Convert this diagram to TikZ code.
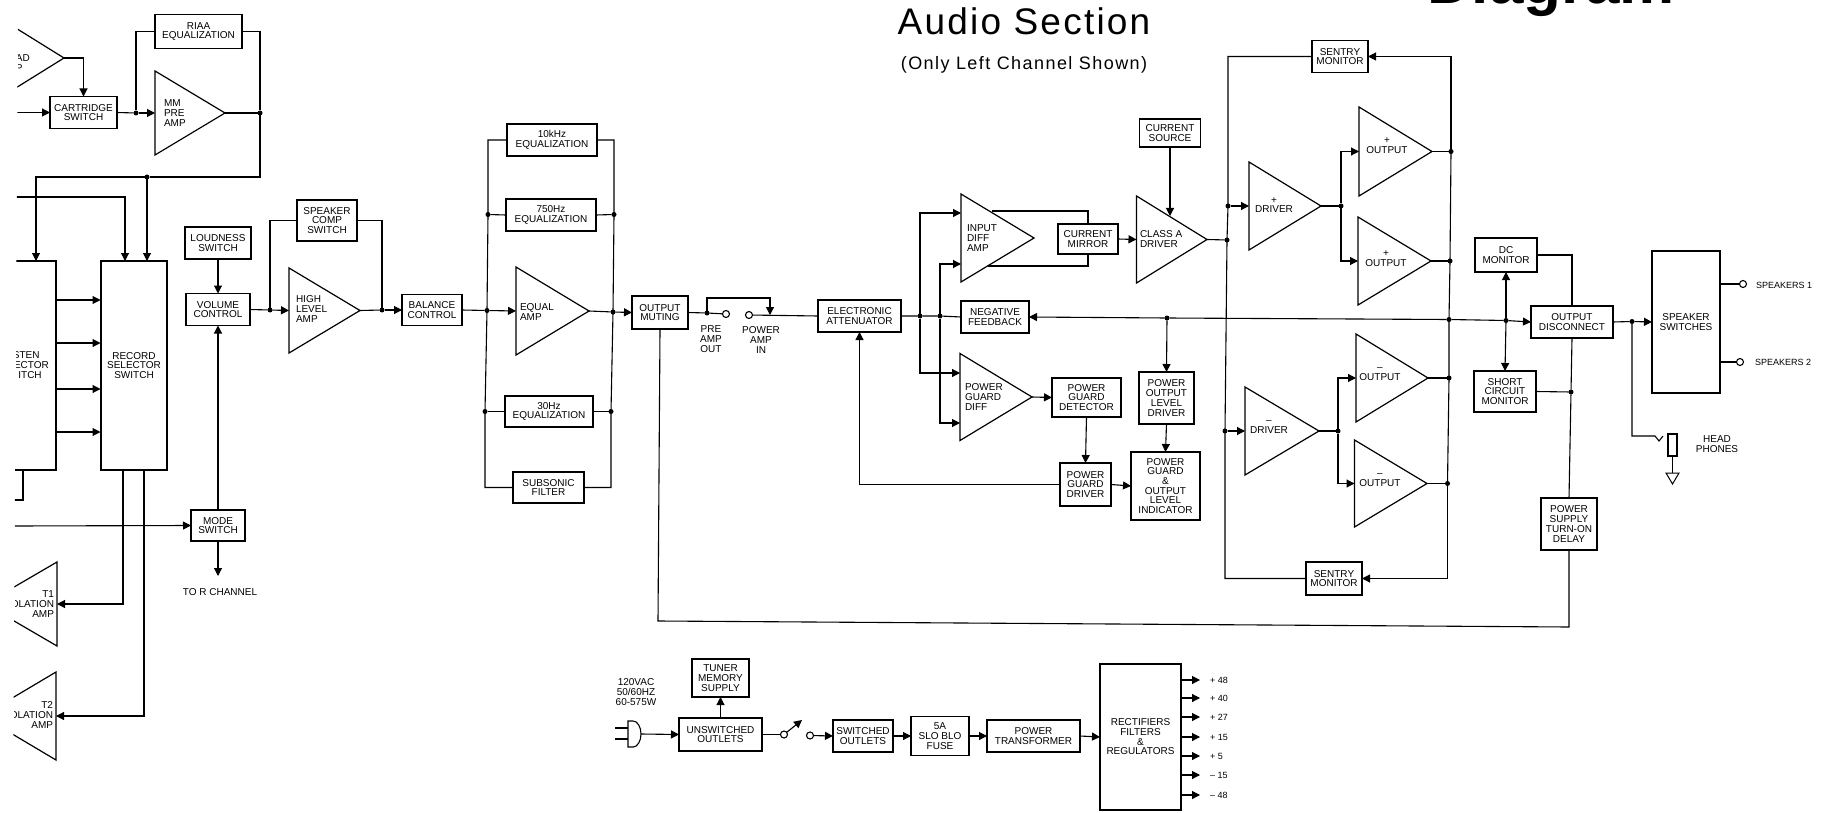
\documentclass[tikz,border=0pt]{standalone}
\usepackage{fontspec}
\setmainfont{Liberation Sans}
\newfontfamily\headA[LetterSpace=6]{Liberation Sans}
\newfontfamily\headB[LetterSpace=8]{Liberation Sans}
\usepackage{tikz}
\usetikzlibrary{arrows.meta,calc,shapes.geometric}

\begin{document}
\begin{tikzpicture}
	[
	 x = 1pt,
	 y = -1pt,
	 line width = 1.1pt,
	 >={Triangle[length=8pt,width=8pt]},
	 every node/.style = {align=center,
		                  font=\fontsize{10}{9.7}\selectfont,
		                  inner sep = 0pt,
		                  outer sep = 0pt
	                     },
	 wh/.style 2 args = {minimum width=#1pt, minimum height=#2pt},
	 blk/.style = {shape=rectangle, draw, line width=1.3pt},
	 amp/.style 2 args = {isosceles triangle,
		                  isosceles triangle stretches,
		                  draw,
		                  line width=1.2pt,
		                  anchor=lower side,
		                  minimum height=#1pt,
		                  minimum width=#2pt},
	 jn/.style = {circle, fill, minimum size=5pt},
	 jack/.style = {circle, draw, minimum size=7pt},
	 lft/.style = {anchor=west, align=left},
	 sm/.style = {font=\fontsize{9}{9.7}\selectfont}
	]

	\useasboundingbox (0,0) rectangle (1828,813);
	\clip (18,0) -- (1828,0) -- (1828,813) -- (13,813) -- cycle;

	\node [anchor=base west, font=\fontsize{62}{62}\selectfont\bfseries] (TTa) at (1427,4) {Diagram};
	\node [font=\fontsize{37}{37}\selectfont\headA] (TTb) at (1024,21) {Audio Section};
	\node [font=\fontsize{18}{18}\selectfont\headB] (TTc) at (1024,65) {(Only Left Channel Shown)};

	\node [amp={74}{92}] (LD) at (-10,58) {};
	\node [lft] (LDt) at (16,63) {AD\\P};
	\node [blk, wh={67}{32}] (CSW) at (83.5,112.5) {CARTRIDGE\\SWITCH};
	\node [blk, wh={87}{34}] (RI) at (198.5,31.5) {RIAA\\EQUALIZATION};
	\node [amp={70}{84}] (MM) at (155,113) {};
	\node [lft] (MMt) at (164,113) {MM\\PRE\\AMP};
	\node [jn] (J1) at (136,113) {};
	\node [jn] (J2) at (260,113) {};
	\node [jn] (J3) at (147,177) {};

	\node [blk, wh={86}{209}] (LS) at (13,365.5) {};
	\node (LSt) at (22,365) {\phantom{LI}STEN\\\phantom{SEL}ECTOR\\\phantom{SW}ITCH};
	\node [blk, wh={66}{209}] (RS) at (134,365.5) {RECORD\\SELECTOR\\SWITCH};
	\coordinate (INa) at (14,112.5);
	\coordinate (INb) at (14,197);
	\coordinate (INc) at (14,526);
	\coordinate (LSa) at (36,261);
	\coordinate (LSb) at (23,470);
	\coordinate (LSc) at (14,500);
	\coordinate (RSa) at (125,261);
	\coordinate (RSb) at (147,261);
	\coordinate (RSc) at (100.5,300);
	\coordinate (RSd) at (100.5,343);
	\coordinate (RSe) at (100.5,389);
	\coordinate (RSf) at (100.5,432);
	\coordinate (RSg) at (123,470);
	\coordinate (RSh) at (144,470);

	\node [amp={72}{84}, shape border rotate=180] (T1) at (57,604) {};
	\node [anchor=east, align=right] (T1t) at (54,604) {T1\\OLATION\\AMP};
	\node [amp={74}{88}, shape border rotate=180] (T2) at (56,716) {};
	\node [anchor=east, align=right] (T2t) at (53,715) {T2\\OLATION\\AMP};

	\node [blk, wh={66}{32}] (LOUD) at (218,243) {LOUDNESS\\SWITCH};
	\node [blk, wh={64}{32}] (VOL) at (218,309.5) {VOLUME\\CONTROL};
	\node [blk, wh={54}{31}] (MS) at (218,525.5) {MODE\\SWITCH};
	\coordinate (MSa) at (218,576);
	\node (TOR) at (220,592) {TO R CHANNEL};
	\node [blk, wh={60}{41}] (SPK) at (327,220.5) {SPEAKER\\COMP\\SWITCH};
	\node [amp={71}{85}] (HL) at (289,310.5) {};
	\node [lft] (HLt) at (296,309) {HIGH\\LEVEL\\AMP};
	\node [jn] (J4) at (270,310) {};
	\node [jn] (J5) at (382,310) {};
	\node [blk, wh={60}{31}] (BAL) at (432,310) {BALANCE\\CONTROL};

	\node [blk, wh={90}{32}] (E10) at (552,140) {10kHz\\EQUALIZATION};
	\node [blk, wh={90}{32}] (E750) at (551,215) {750Hz\\EQUALIZATION};
	\node [amp={73}{88}] (EA) at (516,311) {};
	\node [lft] (EAt) at (520,312) {EQUAL\\AMP};
	\node [blk, wh={88}{31}] (E30) at (549,411.5) {30Hz\\EQUALIZATION};
	\node [blk, wh={71}{31}] (SUB) at (548.5,487.5) {SUBSONIC\\FILTER};
	\node [jn] (J6) at (487,310.5) {};
	\node [jn] (J7) at (488,214.5) {};
	\node [jn] (J8) at (485,411.5) {};
	\node [jn] (J9) at (613,312) {};
	\node [jn] (J10) at (614,214.5) {};
	\node [jn] (J11) at (611,411.5) {};

	\node [blk, wh={56}{33}] (MUTE) at (660,312.5) {OUTPUT\\MUTING};
	\node [jn] (J12) at (707,313) {};
	\node [jack] (PRE) at (726,314) {};
	\node [jack] (POW) at (749,315) {};
	\node (PREt) at (711,339) {PRE\\AMP\\OUT};
	\node (POWt) at (761,340) {POWER\\AMP\\IN};
	\coordinate (POWa) at (770,315);
	\node [blk, wh={83}{32}] (ATT) at (859.5,316) {ELECTRONIC\\ATTENUATOR};

	\node [jn] (D1) at (920,316) {};
	\node [jn] (D2) at (940,316) {};
	\node [blk, wh={68}{32}] (NF) at (995,317) {NEGATIVE\\FEEDBACK};
	\node [amp={73}{88}] (ID) at (961,238) {};
	\node [lft] (IDt) at (967,238) {INPUT\\DIFF\\AMP};
	\coordinate (IDa) at (961,213);
	\coordinate (IDb) at (961,264);
	\coordinate (IDc) at (992,211);
	\coordinate (IDd) at (987.5,266);
	\node [blk, wh={60}{30}] (CM) at (1088,239) {CURRENT\\MIRROR};
	\node [amp={70.5}{87}] (CA) at (1136.5,239.5) {};
	\node [lft] (CAt) at (1140,239) {CLASS A\\DRIVER};
	\coordinate (CAa) at (1170,216);
	\node [blk, wh={61}{28}] (CSRC) at (1170,133) {CURRENT\\SOURCE};

	\node [amp={72}{87}] (PG) at (960,397) {};
	\node [lft] (PGt) at (965,397) {POWER\\GUARD\\DIFF};
	\coordinate (PGa) at (960,373);
	\coordinate (PGb) at (960,423);
	\node [blk, wh={69}{39}] (PGDE) at (1086.5,397.5) {POWER\\GUARD\\DETECTOR};
	\node [blk, wh={51}{43}] (PGDR) at (1085.5,484.5) {POWER\\GUARD\\DRIVER};
	\node [blk, wh={55}{52}] (PO) at (1166.5,398) {POWER\\OUTPUT\\LEVEL\\DRIVER};
	\node [blk, wh={69}{68}] (PI) at (1165.5,486) {POWER\\GUARD\\\&\\OUTPUT\\LEVEL\\INDICATOR};
	\node [jn] (F1) at (1167,318) {};

	\node [blk, wh={56}{32}] (SM1) at (1340,56.5) {SENTRY\\MONITOR};
	\node [blk, wh={56}{33}] (SM2) at (1334,578.5) {SENTRY\\MONITOR};
	\node [jn] (B1) at (1227,240) {};
	\node [jn] (B2) at (1228,206) {};
	\node [jn] (B3) at (1225,431) {};

	\node [amp={72}{88}] (DP) at (1249,206) {};
	\node (DPt) at (1274,205) {+\\DRIVER};
	\node [jn] (D3) at (1341,206) {};
	\node [amp={73}{89}] (OP1) at (1359,151.5) {};
	\node (OP1t) at (1387,146) {+\\OUTPUT};
	\node [amp={73}{88}] (OP2) at (1358,261) {};
	\node (OP2t) at (1386,259) {+\\OUTPUT};
	\node [amp={74}{88}] (DM) at (1245,431) {};
	\node (DMt) at (1269,427) {--\\DRIVER};
	\node [jn] (D4) at (1338,431) {};
	\node [amp={72}{88}] (OM1) at (1356,378) {};
	\node (OM1t) at (1380,374) {--\\OUTPUT};
	\node [amp={72.5}{87}] (OM2) at (1354.5,483.5) {};
	\node (OM2t) at (1380,480) {--\\OUTPUT};
	\node [jn] (R1) at (1451,151.5) {};
	\node [jn] (R2) at (1450,261) {};
	\node [jn] (R3) at (1449,319.5) {};
	\node [jn] (R4) at (1449,378) {};
	\node [jn] (R5) at (1447.5,483.5) {};

	\node [jn] (D5) at (1506,320.5) {};
	\node [blk, wh={62}{34}] (DC) at (1506,255) {DC\\MONITOR};
	\node [blk, wh={62}{41}] (SC) at (1505,391.5) {SHORT\\CIRCUIT\\MONITOR};
	\node [blk, wh={82}{32}] (OD) at (1572,322) {OUTPUT\\DISCONNECT};
	\node [jn] (D6) at (1571,392) {};
	\node [blk, wh={56}{52}] (PSD) at (1569,524) {POWER\\SUPPLY\\TURN-ON\\DELAY};
	\coordinate (BTa) at (1569,627);
	\coordinate (BTb) at (658,621);
	\node [jn] (D7) at (1632,321.5) {};
	\node [blk, wh={68}{142}] (SS) at (1686,322) {SPEAKER\\SWITCHES};
	\node [jack] (S1) at (1743,284) {};
	\node [jack] (S2) at (1740,362) {};
	\node [lft, sm] (S1t) at (1756,285) {SPEAKERS 1};
	\node [lft, sm] (S2t) at (1755,362) {SPEAKERS 2};
	\coordinate (HPa) at (1655,436);
	\node [draw, wh={9}{22}] (HPj) at (1672.5,445) {};
	\node [amp={11}{13}, shape border rotate=-90, line width=1pt] (HPg) at (1672.5,473) {};
	\node (HPt) at (1717,444) {HEAD\\PHONES};

	\node (VAC) at (636,692) {120VAC\\50/60HZ\\60-575W};
	\coordinate (PLa) at (628,721);
	\coordinate (PLb) at (641,734);
	\coordinate (PLc) at (615,728);
	\coordinate (PLd) at (628,728);
	\coordinate (PLe) at (615,739);
	\coordinate (PLf) at (628,739);
	\node [blk, wh={83}{33}] (UO) at (720.5,734.5) {UNSWITCHED\\OUTLETS};
	\node [blk, wh={57}{38}] (TM) at (720.5,678) {TUNER\\MEMORY\\SUPPLY};
	\node [jack] (SWa) at (784,734.5) {};
	\node [jack] (SWb) at (810,735.5) {};
	\coordinate (SWc) at (802,720);
	\node [blk, wh={60}{32}] (SO) at (863,736) {SWITCHED\\OUTLETS};
	\node [blk, wh={58}{39}] (FU) at (940,736) {5A\\SLO BLO\\FUSE};
	\node [blk, wh={93}{32}] (TR) at (1033.5,736) {POWER\\TRANSFORMER};
	\node [blk, wh={81}{146}] (RE) at (1140.5,737) {RECTIFIERS\\FILTERS\\\&\\REGULATORS};
	\node [lft, sm] (V1) at (1210,680) {+ 48};
	\node [lft, sm] (V2) at (1210,698) {+ 40};
	\node [lft, sm] (V3) at (1210,717) {+ 27};
	\node [lft, sm] (V4) at (1210,737) {+ 15};
	\node [lft, sm] (V5) at (1210,756) {+ 5};
	\node [lft, sm] (V6) at (1210,775) {-- 15};
	\node [lft, sm] (V7) at (1210,795) {-- 48};

	\draw [->] (LD.apex) -| (CSW.north);
	\draw [->] (INa) -- (CSW.west);
	\draw (CSW.east) -- (J1);
	\draw [->] (J1) -- (MM.lower side);
	\draw (J1) |- (RI.west);
	\draw (RI.east) -| (J2);
	\draw (MM.apex) -- (J2);
	\draw (J2) |- (J3);
	\draw [->] (J3) -| (LSa);
	\draw [->] (J3) -- (RSb);
	\draw [->] (INb) -| (RSa);
	\draw [->] (RSc -| LS.east) -- (RSc);
	\draw [->] (RSd -| LS.east) -- (RSd);
	\draw [->] (RSe -| LS.east) -- (RSe);
	\draw [->] (RSf -| LS.east) -- (RSf);
	\draw (LSb) |- (LSc);
	\draw [->] (RSg) |- (T1.lower side);
	\draw [->] (RSh) |- (T2.lower side);

	\draw [->] (LOUD.south) -- (VOL.north);
	\draw [->] (MS.north) -- (VOL.south);
	\draw [->] (MS.south) -- (MSa);
	\draw [->] (INc) -- (MS.west);
	\draw (VOL.east) -- (J4);
	\draw [->] (J4) -- (HL.lower side);
	\draw (J4) |- (SPK.west);
	\draw (SPK.east) -| (J5);
	\draw (HL.apex) -- (J5);
	\draw [->] (J5) -- (BAL.west);

	\draw (BAL.east) -- (J6);
	\draw [->] (J6) -- (EA.lower side);
	\draw (E10.west) -| (J7.center) -- (J6.center) -- (J8.center) |- (SUB.west);
	\draw (E10.east) -| (J10.center) -- (J9.center) -- (J11.center) |- (SUB.east);
	\draw (J7) -- (E750.west);
	\draw (E750.east) -- (J10);
	\draw (J8) -- (E30.west);
	\draw (E30.east) -- (J11);
	\draw (EA.apex) -- (J9);
	\draw [->] (J9) -- (MUTE.west);

	\draw (MUTE.east) -- (J12);
	\draw (J12) -- (PRE);
	\draw (POW) -- (ATT.west);
	\draw [->] (J12) -- ++(0,-15) -| (POWa);
	\draw (ATT.east) -- (D1) -- (D2) -- (NF.west);
	\draw [->] (D1) |- (IDa);
	\draw [->] (D2) |- (IDb);
	\draw [->] (D1) |- (PGa);
	\draw [->] (D2) |- (PGb);
	\draw (IDc) -| (CM.north);
	\draw (IDd) -| (CM.south);
	\draw [->] (CM.east) -- (CA.lower side);
	\draw [->] (CSRC.south) -- (CAa);
	\draw (CA.apex) -- (B1);
	\draw (SM1.west) -| (B2.center) -- (B1.center) -- (B3.center) |- (SM2.west);
	\draw [->] (B2) -- (DP.lower side);
	\draw [->] (B3) -- (DM.lower side);
	\draw (DP.apex) -- (D3);
	\draw (DM.apex) -- (D4);
	\draw [->] (D3) |- (OP1.lower side);
	\draw [->] (D3) |- (OP2.lower side);
	\draw [->] (D4) |- (OM1.lower side);
	\draw [->] (D4) |- (OM2.lower side);
	\draw (OP1.apex) -- (R1);
	\draw (OP2.apex) -- (R2);
	\draw (OM1.apex) -- (R4);
	\draw (OM2.apex) -- (R5);
	\draw (R1.center) -- (R2.center) -- (R3.center) -- (R4.center) -- (R5.center);
	\draw [->] (R1.center) |- (SM1.east);
	\draw [->] (R5.center) |- (SM2.east);

	\draw (R3) -- (F1);
	\draw [->] (F1) -- (NF.east);
	\draw [->] (F1) -- (PO.north);
	\draw [->] (PO.south) -- (PI.north);
	\draw [->] (PG.apex) -- (PGDE.west);
	\draw [->] (PGDE.south) -- (PGDR.north);
	\draw [->] (PGDR.east) -- (PI.west);
	\draw [->] (PGDR.west) -| (ATT.south);

	\draw (R3) -- (D5);
	\draw [->] (D5) -- (OD.west);
	\draw [->] (D5) -- (DC.south);
	\draw [->] (D5) -- (SC.north);
	\draw (DC.east) -| (OD.north);
	\draw (OD.south) -- (D6);
	\draw (SC.east) -- (D6);
	\draw (D6) -- (PSD.north);
	\draw (PSD.south) -- (BTa) -- (BTb) -- (MUTE.south);
	\draw (OD.east) -- (D7);
	\draw [->] (D7) -- (SS.west);
	\draw (D7) |- (HPa) -- ++(4,5) -- ++(4,-5);
	\draw (HPj.south) -- (HPg.lower side);
	\draw (S1 -| SS.east) -- (S1);
	\draw (S2 -| SS.east) -- (S2);

	\draw (PLa) -- ++(5,0) arc [start angle=90, end angle=-90, x radius=8pt, y radius=13pt] -- ++(-5,0) -- cycle;
	\draw (PLc) -- (PLd);
	\draw (PLe) -- (PLf);
	\draw [->] (PLb) -- (UO.west);
	\draw [->] (UO.north) -- (TM.south);
	\draw (UO.east) -- (SWa);
	\draw [->] (SWa) -- (SWc);
	\draw [->] (SWb) -- (SO.west);
	\draw [->] (SO.east) -- (FU.west);
	\draw [->] (FU.east) -- (TR.west);
	\draw [->] (TR.east) -- (RE.west);
	\draw [->] (V1 -| RE.east) -- ++(19,0);
	\draw [->] (V2 -| RE.east) -- ++(19,0);
	\draw [->] (V3 -| RE.east) -- ++(19,0);
	\draw [->] (V4 -| RE.east) -- ++(19,0);
	\draw [->] (V5 -| RE.east) -- ++(19,0);
	\draw [->] (V6 -| RE.east) -- ++(19,0);
	\draw [->] (V7 -| RE.east) -- ++(19,0);
\end{tikzpicture}
\end{document}
